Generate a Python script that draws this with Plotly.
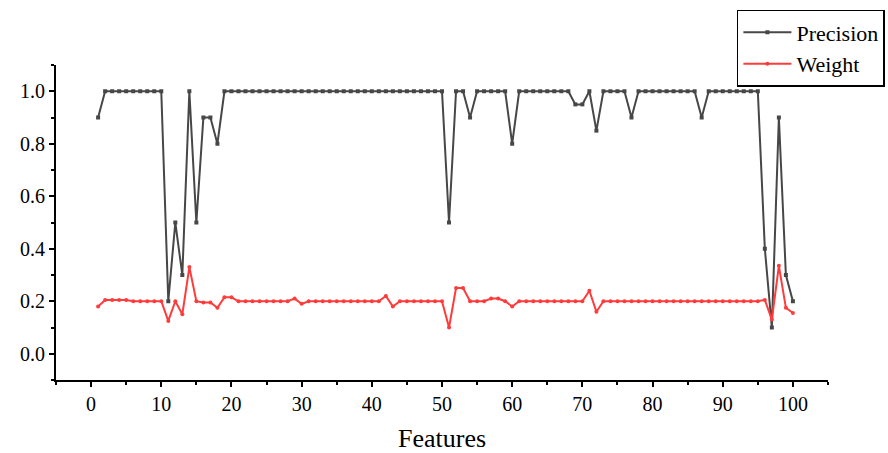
import plotly.graph_objects as go

features = list(range(1, 101))

precision = [
    0.9, 1.0, 1.0, 1.0, 1.0, 1.0, 1.0, 1.0, 1.0, 1.0,
    0.2, 0.5, 0.3, 1.0, 0.5, 0.9, 0.9, 0.8, 1.0, 1.0,
    1.0, 1.0, 1.0, 1.0, 1.0, 1.0, 1.0, 1.0, 1.0, 1.0,
    1.0, 1.0, 1.0, 1.0, 1.0, 1.0, 1.0, 1.0, 1.0, 1.0,
    1.0, 1.0, 1.0, 1.0, 1.0, 1.0, 1.0, 1.0, 1.0, 1.0,
    0.5, 1.0, 1.0, 0.9, 1.0, 1.0, 1.0, 1.0, 1.0, 0.8,
    1.0, 1.0, 1.0, 1.0, 1.0, 1.0, 1.0, 1.0, 0.95, 0.95,
    1.0, 0.85, 1.0, 1.0, 1.0, 1.0, 0.9, 1.0, 1.0, 1.0,
    1.0, 1.0, 1.0, 1.0, 1.0, 1.0, 0.9, 1.0, 1.0, 1.0,
    1.0, 1.0, 1.0, 1.0, 1.0, 0.4, 0.1, 0.9, 0.3, 0.2,
]

weight = [
    0.18, 0.205, 0.205, 0.205, 0.205, 0.2, 0.2, 0.2, 0.2, 0.2,
    0.125, 0.2, 0.15, 0.33, 0.2, 0.195, 0.195, 0.175, 0.215, 0.215,
    0.2, 0.2, 0.2, 0.2, 0.2, 0.2, 0.2, 0.2, 0.21, 0.19,
    0.2, 0.2, 0.2, 0.2, 0.2, 0.2, 0.2, 0.2, 0.2, 0.2,
    0.2, 0.22, 0.18, 0.2, 0.2, 0.2, 0.2, 0.2, 0.2, 0.2,
    0.1, 0.25, 0.25, 0.2, 0.2, 0.2, 0.21, 0.21, 0.2, 0.18,
    0.2, 0.2, 0.2, 0.2, 0.2, 0.2, 0.2, 0.2, 0.2, 0.2,
    0.24, 0.16, 0.2, 0.2, 0.2, 0.2, 0.2, 0.2, 0.2, 0.2,
    0.2, 0.2, 0.2, 0.2, 0.2, 0.2, 0.2, 0.2, 0.2, 0.2,
    0.2, 0.2, 0.2, 0.2, 0.2, 0.205, 0.13, 0.335, 0.175, 0.155,
]

FONT = "Liberation Serif"

fig = go.Figure()
fig.add_trace(go.Scatter(
    x=features, y=precision, name="Precision", mode="lines+markers",
    line=dict(color="#474747", width=2),
    marker=dict(symbol="square", size=4, color="#474747"),
))
fig.add_trace(go.Scatter(
    x=features, y=weight, name="Weight", mode="lines+markers",
    line=dict(color="#ff3b3b", width=2),
    marker=dict(symbol="circle", size=4, color="#ff3b3b"),
))

fig.update_layout(
    width=888, height=453,
    margin=dict(l=56, r=60, t=65, b=73, autoexpand=False),
    paper_bgcolor="white", plot_bgcolor="white",
    font=dict(family=FONT, size=20, color="black"),
    showlegend=True,
    legend=dict(
        x=0.882, y=1.175, xanchor="left", yanchor="top",
        bgcolor="white", bordercolor="black", borderwidth=1.5,
        font=dict(family=FONT, size=22, color="black"),
        tracegroupgap=0, itemwidth=48,
    ),
)

fig.update_xaxes(
    range=[-5, 105], showgrid=False, zeroline=False, automargin=False,
    showline=True, linecolor="black", linewidth=2,
    tickmode="linear", tick0=0, dtick=10,
    ticks="outside", ticklen=5, tickwidth=1.5, tickcolor="black",
    minor=dict(ticks="outside", ticklen=3, dtick=5, tick0=0, tickcolor="black"),
    tickfont=dict(family=FONT, size=20),
    title=dict(text="Features", font=dict(family=FONT, size=26), standoff=32),
)
fig.update_yaxes(
    range=[-0.1, 1.1], showgrid=False, zeroline=False, automargin=False,
    showline=True, linecolor="black", linewidth=2,
    tickmode="linear", tick0=0, dtick=0.2, tickformat=".1f",
    ticks="outside", ticklen=5, tickwidth=1.5, tickcolor="black",
    minor=dict(ticks="outside", ticklen=3, dtick=0.1, tick0=0, tickcolor="black"),
    tickfont=dict(family=FONT, size=20),
)

fig.write_html("out.html")
